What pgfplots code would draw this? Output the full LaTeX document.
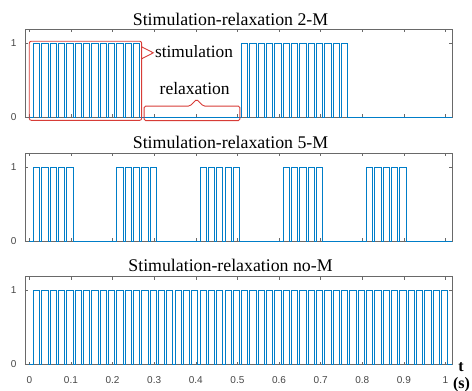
\documentclass[border=0pt]{standalone}
\usepackage{fontspec}
\setmainfont{Liberation Serif}
\newfontfamily\ticksfont{Liberation Sans}
\usepackage{pgfplots}
\pgfplotsset{compat=1.18}
\definecolor{sig}{RGB}{0,125,200}
\definecolor{axgray}{RGB}{105,105,105}
\definecolor{tickgray}{RGB}{70,70,70}
\definecolor{annot}{RGB}{215,60,55}
\newcommand{\bigfont}{\fontsize{17.8bp}{20bp}\selectfont}
\pgfplotsset{
  panel/.style={
    scale only axis, width=427bp, height=88bp,
    xmin=-0.0103, xmax=1.0156, ymin=0, ymax=1.19,
    xtick={0,0.1,0.2,0.3,0.4,0.5,0.6,0.7,0.8,0.9,1},
    ytick={0,1},
    major tick length=3bp, tick align=inside,
    axis line style={draw=axgray, line width=0.5bp},
    every tick/.style={draw=axgray, line width=0.5bp},
    /pgf/number format/assume math mode=true,
    tick label style={font=\ticksfont\fontsize{10bp}{12bp}\selectfont, text=tickgray},
    yticklabel style={xshift=-5bp},
    xticklabel style={yshift=-8.5bp},
    clip=false,
  },
  sigline/.style={const plot, color=sig, line width=0.8bp, mark=none},
}
\begin{document}
\begin{tikzpicture}
\useasboundingbox (0,0) rectangle (472bp,-391bp);
% Panel 1: 2-M
\begin{axis}[panel, at={(25bp,-117bp)}, anchor=south west, xticklabels={}]
\addplot[sigline] coordinates {
(0,0)
(0.01,1)(0.025,0)(0.03,1)(0.045,0)(0.05,1)(0.065,0)(0.07,1)(0.085,0)(0.09,1)(0.105,0)
(0.11,1)(0.125,0)(0.13,1)(0.145,0)(0.15,1)(0.165,0)(0.17,1)(0.185,0)(0.19,1)(0.205,0)
(0.21,1)(0.225,0)(0.23,1)(0.245,0)(0.25,1)(0.265,0)
(0.51,1)(0.525,0)(0.53,1)(0.545,0)(0.55,1)(0.565,0)(0.57,1)(0.585,0)(0.59,1)(0.605,0)
(0.61,1)(0.625,0)(0.63,1)(0.645,0)(0.65,1)(0.665,0)(0.67,1)(0.685,0)(0.69,1)(0.705,0)
(0.71,1)(0.725,0)(0.73,1)(0.745,0)(0.75,1)(0.765,0)
(1.0156,0)};
\draw[annot, line width=0.9bp, rounded corners=2bp] (0,-0.045) rectangle (0.27,1.025);
\draw[annot, line width=0.9bp] (0.27,0.949) -- (0.298,0.868) -- (0.27,0.787);
\draw[annot, line width=0.9bp, rounded corners=1.5bp]
  (0.276,-0.05) -- (0.276,0.148) -- (0.386,0.148) -- (0.402,0.24) -- (0.418,0.148)
  -- (0.506,0.148) -- (0.506,-0.05) -- cycle;
\end{axis}
% Panel 2: 5-M
\begin{axis}[panel, at={(25bp,-241bp)}, anchor=south west, xticklabels={}]
\addplot[sigline] coordinates {
(0,0)
(0.01,1)(0.025,0)(0.03,1)(0.045,0)(0.05,1)(0.065,0)(0.07,1)(0.085,0)(0.09,1)(0.105,0)
(0.21,1)(0.225,0)(0.23,1)(0.245,0)(0.25,1)(0.265,0)(0.27,1)(0.285,0)(0.29,1)(0.305,0)
(0.41,1)(0.425,0)(0.43,1)(0.445,0)(0.45,1)(0.465,0)(0.47,1)(0.485,0)(0.49,1)(0.505,0)
(0.61,1)(0.625,0)(0.63,1)(0.645,0)(0.65,1)(0.665,0)(0.67,1)(0.685,0)(0.69,1)(0.705,0)
(0.81,1)(0.825,0)(0.83,1)(0.845,0)(0.85,1)(0.865,0)(0.87,1)(0.885,0)(0.89,1)(0.905,0)
(1.0156,0)};
\end{axis}
% Panel 3: no-M
\begin{axis}[panel, at={(25bp,-364.5bp)}, anchor=south west]
\addplot[sigline] coordinates {
(0,0)
(0.01,1)(0.025,0)(0.03,1)(0.045,0)(0.05,1)(0.065,0)(0.07,1)(0.085,0)(0.09,1)(0.105,0)
(0.11,1)(0.125,0)(0.13,1)(0.145,0)(0.15,1)(0.165,0)(0.17,1)(0.185,0)(0.19,1)(0.205,0)
(0.21,1)(0.225,0)(0.23,1)(0.245,0)(0.25,1)(0.265,0)(0.27,1)(0.285,0)(0.29,1)(0.305,0)
(0.31,1)(0.325,0)(0.33,1)(0.345,0)(0.35,1)(0.365,0)(0.37,1)(0.385,0)(0.39,1)(0.405,0)
(0.41,1)(0.425,0)(0.43,1)(0.445,0)(0.45,1)(0.465,0)(0.47,1)(0.485,0)(0.49,1)(0.505,0)
(0.51,1)(0.525,0)(0.53,1)(0.545,0)(0.55,1)(0.565,0)(0.57,1)(0.585,0)(0.59,1)(0.605,0)
(0.61,1)(0.625,0)(0.63,1)(0.645,0)(0.65,1)(0.665,0)(0.67,1)(0.685,0)(0.69,1)(0.705,0)
(0.71,1)(0.725,0)(0.73,1)(0.745,0)(0.75,1)(0.765,0)(0.77,1)(0.785,0)(0.79,1)(0.805,0)
(0.81,1)(0.825,0)(0.83,1)(0.845,0)(0.85,1)(0.865,0)(0.87,1)(0.885,0)(0.89,1)(0.905,0)
(0.91,1)(0.925,0)(0.93,1)(0.945,0)(0.95,1)(0.965,0)(0.97,1)(0.985,0)(0.99,1)(1.005,0)
(1.0156,0)};
\end{axis}
% Titles and annotation texts
\node[anchor=base, inner sep=0pt] at (230.5bp,-25bp) {\bigfont Stimulation-relaxation 2-M};
\node[anchor=base, inner sep=0pt] at (230.5bp,-148.3bp) {\bigfont Stimulation-relaxation 5-M};
\node[anchor=base, inner sep=0pt] at (230.5bp,-271.5bp) {\bigfont Stimulation-relaxation no-M};
\node[anchor=base, inner sep=0pt] at (194bp,-57.5bp) {\fontsize{17.3bp}{20bp}\selectfont stimulation};
\node[anchor=base, inner sep=0pt] at (194.7bp,-94.5bp) {\fontsize{17.5bp}{20bp}\selectfont relaxation};
\node[anchor=base, inner sep=0pt] at (461bp,-371bp) {\fontsize{16bp}{18bp}\selectfont\bfseries t};
\node[anchor=base, inner sep=0pt] at (461.5bp,-388bp) {\fontsize{16bp}{18bp}\selectfont\bfseries (s)};
\end{tikzpicture}
\end{document}
